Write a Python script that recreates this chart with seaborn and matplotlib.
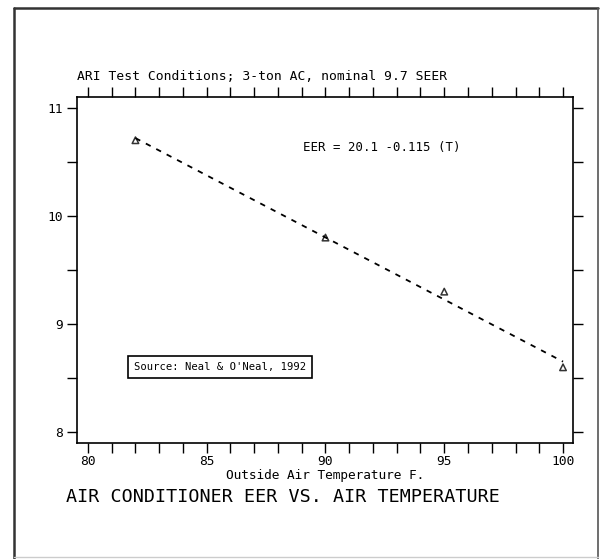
import matplotlib
matplotlib.use("Agg")
import matplotlib.pyplot as plt
import seaborn as sns
import pandas as pd
from matplotlib.ticker import MultipleLocator
from matplotlib.lines import Line2D

# Data
temps = [82, 90, 95, 100]
eer = [10.7, 9.8, 9.3, 8.6]
x_ticks = [80, 85, 90, 95, 100]
y_ticks = [8, 9, 10, 11]

sns.set_style("ticks")
plt.rcParams['font.family'] = ['DejaVu Sans Mono', 'DejaVu Sans']
plt.rcParams['text.color'] = 'black'
plt.rcParams['axes.labelcolor'] = 'black'
plt.rcParams['xtick.color'] = 'black'
plt.rcParams['ytick.color'] = 'black'

df = pd.DataFrame({"T": temps, "EER": eer})

W, H = 601, 559
fig = plt.figure(figsize=(W / 100, H / 100), dpi=100)
ax = fig.add_axes([77 / W, 1 - 443 / H, (573 - 77) / W, (443 - 97) / H])

sns.regplot(data=df, x="T", y="EER", ax=ax, ci=None, truncate=True,
            marker="^",
            scatter_kws=dict(s=22, facecolors="none", edgecolors="black", linewidths=1.1),
            line_kws=dict(color="black", linestyle=(0, (3, 3.5)), linewidth=1.3))

ax.set_xlim(79.54, 100.42)
ax.set_ylim(7.9, 11.1)
ax.set_xticks(x_ticks)
ax.set_yticks(y_ticks)
ax.xaxis.set_minor_locator(MultipleLocator(1))
ax.yaxis.set_minor_locator(MultipleLocator(0.5))
ax.tick_params(which="both", direction="out", length=7, width=1.0, color="black",
               top=True, right=True, labeltop=False, labelright=False,
               labelsize=9.3, pad=3)
ax.tick_params(axis="x", pad=1.5)
for s in ax.spines.values():
    s.set_visible(True)
    s.set_linewidth(1.2)
    s.set_color("black")

ax.set_xlabel("Outside Air Temperature F.", fontsize=9.2, va="center")
ax.xaxis.set_label_coords(0.5, -(476 - 443) / (443 - 97))
ax.set_ylabel("")

ax.text(0.0, 1.04, "ARI Test Conditions; 3-ton AC, nominal 9.7 SEER",
        transform=ax.transAxes, fontsize=9.4, ha="left", va="bottom")
ax.text(303 / W, 1 - 148 / H, "EER = 20.1 -0.115 (T)", transform=fig.transFigure,
        fontsize=8.9, ha="left", va="center")
ax.text(220 / W, 1 - 367 / H, "Source: Neal & O'Neal, 1992", transform=fig.transFigure,
        fontsize=7.6, ha="center", va="center",
        bbox=dict(boxstyle="square,pad=0.55", facecolor="white", edgecolor="black", linewidth=1.2))

fig.text(66 / W, 1 - 497 / H, "AIR CONDITIONER EER VS. AIR TEMPERATURE",
         fontsize=13.2, ha="left", va="center")

# outer frame
def fl(x0, y0, x1, y1, color="black", lw=1.5):
    fig.add_artist(Line2D([x0 / W, x1 / W], [1 - y0 / H, 1 - y1 / H],
                          transform=fig.transFigure, color=color, linewidth=lw))

fl(14, 8, 598, 8, color="#333333", lw=1.8)
fl(14, 8, 14, 559, color="#333333", lw=1.8)
fl(598, 8, 598, 559, color="#555555", lw=1.2)
fl(14, 557, 598, 557, color="#cccccc", lw=1.0)

fig.savefig("out.png", dpi=100)
